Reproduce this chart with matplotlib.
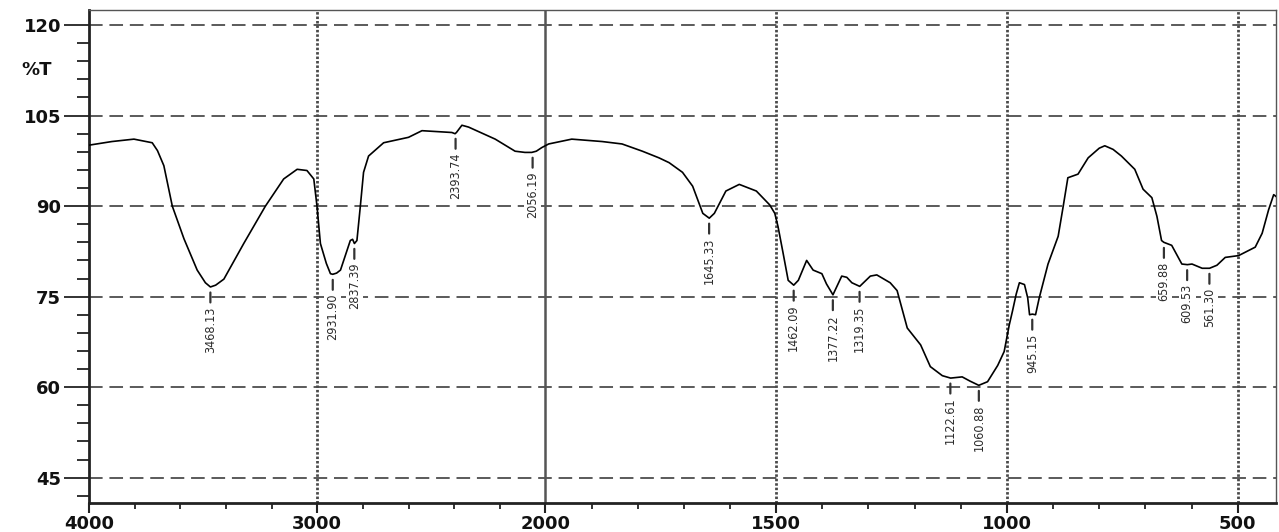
import numpy as np
import matplotlib
matplotlib.use("Agg")
import matplotlib.pyplot as plt
from matplotlib.ticker import FixedLocator, NullFormatter

# ---------------- data ----------------
wavenumber = [4000, 3900, 3803, 3723, 3700, 3672, 3635, 3584, 3526, 3490, 3468, 3445, 3409,
              3322, 3227, 3147, 3088, 3045, 3015, 3001, 2993, 2986, 2960, 2942, 2932,
              2915, 2898, 2869, 2855, 2845, 2837, 2826, 2811, 2797, 2775, 2709, 2600,
              2541, 2410, 2396, 2390, 2366, 2337, 2220, 2133, 2090, 2060, 2040, 2016, 1993,
              1943, 1877, 1834, 1790, 1754, 1732, 1703, 1681, 1659, 1645, 1634, 1609,
              1580, 1543, 1514, 1503, 1496, 1485, 1474, 1462, 1452, 1434, 1420, 1401,
              1391, 1377, 1369, 1358, 1347, 1336, 1319, 1296, 1282, 1253, 1238, 1216,
              1187, 1166, 1140, 1122, 1097, 1080, 1061, 1042, 1020, 1006, 995, 988, 980,
              973, 962, 955, 951, 945, 938, 930, 911, 889, 878, 868, 846, 824, 800, 788,
              770, 752, 723, 705, 686, 675, 665, 660, 643, 621, 609, 599, 577, 561, 545,
              527, 498, 462, 447, 433, 422, 417]
transmittance = [100.1, 100.7, 101.1, 100.5, 99.2, 96.7, 90.0, 84.6, 79.4, 77.3, 76.6, 76.9, 77.9,
                 83.8, 90.0, 94.5, 96.1, 95.9, 94.5, 90.0, 86.6, 83.8, 80.5, 78.8, 78.7,
                 78.9, 79.4, 82.7, 84.3, 84.5, 83.8, 84.3, 90.0, 95.6, 98.3, 100.5, 101.4,
                 102.5, 102.2, 102.0, 102.2, 103.4, 103.1, 101.1, 99.1, 98.9, 98.9, 99.1, 99.7, 100.3,
                 101.1, 100.7, 100.3, 99.1, 98.0, 97.2, 95.6, 93.3, 88.8, 88.0, 88.8, 92.5,
                 93.6, 92.5, 90.2, 88.8, 86.6, 82.2, 77.7, 76.9, 77.7, 81.0, 79.4, 78.8,
                 77.1, 75.3, 76.6, 78.4, 78.2, 77.3, 76.7, 78.4, 78.6, 77.3, 76.0, 69.8,
                 67.0, 63.4, 61.9, 61.5, 61.7, 61.0, 60.3, 60.9, 63.6, 65.9, 70.3, 72.6, 75.4,
                 77.3, 77.0, 74.8, 72.0, 72.1, 72.0, 74.8, 80.4, 85.0, 90.0, 94.7, 95.3, 98.0, 99.6, 100.0,
                 99.4, 98.3, 96.1, 92.8, 91.4, 88.3, 84.3, 84.0, 83.5, 80.4, 80.3, 80.4, 79.7, 79.7, 80.2,
                 81.5, 81.8, 83.2, 85.5, 89.4, 91.9, 91.6]

peak_labels = ["3468.13", "2931.90", "2837.39", "2393.74", "2056.19", "1645.33", "1462.09",
               "1377.22", "1319.35", "1122.61", "1060.88", "945.15", "659.88", "609.53", "561.30"]
peak_positions = [float(s) for s in peak_labels]

x_major = [4000, 3000, 2000, 1500, 1000, 500]
y_major = [45, 60, 75, 90, 105, 120]

# ---------------- figure ----------------
W, H = 1279, 532
fig = plt.figure(figsize=(W / 100, H / 100), dpi=100)
ax = fig.add_axes([89 / W, 1 - 503 / H, (1276 - 89) / W, (503 - 10) / H])

r = 0.4945  # compression of the region above 2000 cm-1


def fwd(x):
    x = np.asarray(x, dtype=float)
    return np.where(x > 2000, 2000 + (x - 2000) * r, x)


def inv(f):
    f = np.asarray(f, dtype=float)
    return np.where(f > 2000, 2000 + (f - 2000) / r, f)


ax.set_xscale("function", functions=(fwd, inv))
ax.set_xlim(4000, 417)
ax.set_ylim(40.8, 122.5)

# grid
for yv in y_major:
    ax.axhline(yv, color="#5a5a5a", lw=1.4, dashes=(7, 3.5), zorder=1)
for xv in [3000, 1500, 1000, 500]:
    ax.axvline(xv, color="#4a4a4a", lw=2.0, dashes=(0.9, 0.7), zorder=1)
ax.axvline(2000, color="#555555", lw=1.8, zorder=1)

# spectrum
ax.plot(wavenumber, transmittance, color="black", lw=1.2, zorder=3)

# peak labels
wn_rev = np.array(wavenumber[::-1], dtype=float)
tr_rev = np.array(transmittance[::-1], dtype=float)
for lab, pos in zip(peak_labels, peak_positions):
    yc = np.interp(pos, wn_rev, tr_rev)
    ax.annotate(lab, xy=(pos, yc), xytext=(0, -14), textcoords="offset points",
                rotation=90, ha="center", va="top", fontsize=9,
                family="DejaVu Sans", fontstretch="condensed", color="#2b2b2b",
                bbox=dict(boxstyle="square,pad=0.15", facecolor="white", edgecolor="none"),
                arrowprops=dict(arrowstyle="-", lw=1.6, color="#333333", shrinkA=1.5, shrinkB=4),
                zorder=4)

# ticks
ax.xaxis.set_major_locator(FixedLocator(x_major))
minor_x = [v for v in list(range(3800, 2000, -200)) + list(range(1900, 400, -100)) if v not in x_major]
ax.xaxis.set_minor_locator(FixedLocator(minor_x))
ax.xaxis.set_minor_formatter(NullFormatter())
ax.set_xticklabels([str(v) for v in x_major])
ax.yaxis.set_major_locator(FixedLocator(y_major))
ax.yaxis.set_minor_locator(FixedLocator(list(range(42, 121, 3))))
ax.yaxis.set_minor_formatter(NullFormatter())
ax.set_yticklabels([str(v) for v in y_major])

ax.tick_params(axis="y", which="major", length=18, width=1.3, pad=2, color="#222222",
               labelsize=13)
ax.tick_params(axis="y", which="minor", length=9, width=1.3, color="#222222")
ax.tick_params(axis="x", which="major", length=7, width=1.5, pad=1.5, color="#222222",
               labelsize=13)
ax.tick_params(axis="x", which="minor", length=4, width=1.3, color="#222222")
for lbl in ax.get_xticklabels() + ax.get_yticklabels():
    lbl.set_fontweight("heavy")
    lbl.set_color("#111111")

for side in ["left", "bottom"]:
    ax.spines[side].set_linewidth(2.0)
    ax.spines[side].set_color("#222222")
for side in ["top", "right"]:
    ax.spines[side].set_linewidth(1.0)
    ax.spines[side].set_color("#555555")

# %T unit label
fig.text(52 / W, 1 - 70 / H, "%T", ha="right", va="center", fontsize=13,
         fontweight="heavy", color="#111111")

fig.savefig("out.png", dpi=100)
